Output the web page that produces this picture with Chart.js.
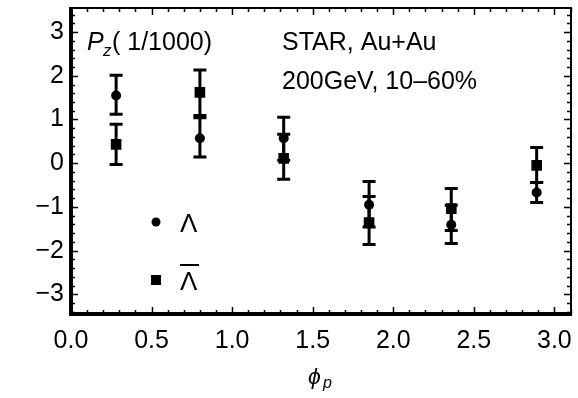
<!DOCTYPE html>
<html>
<head>
<meta charset="utf-8">
<script src="https://cdn.jsdelivr.net/npm/chart.js@4"></script>
<style>
  html, body { margin: 0; padding: 0; background: #fff; }
  #wrap { width: 578px; height: 398px; position: relative; }
</style>
</head>
<body>
<div id="wrap"><canvas id="grafik"></canvas></div>
<script>
// phi_p positions of the six bins
const phiBins = [0.28, 0.80, 1.32, 1.85, 2.36, 2.89];

// Lambda (circles)
const lambdaPz = [1.55, 0.57, 0.57, -0.95, -1.41, -0.67];
const lambdaHi = [2.01, 1.04, 1.05, -0.42, -0.96, -0.44];
const lambdaLo = [1.12, 0.14, 0.07, -1.46, -1.84, -0.90];

// anti-Lambda (squares)
const antiPz = [0.43, 1.62, 0.11, -1.36, -1.04, -0.05];
const antiHi = [0.89, 2.13, 0.66, -0.76, -0.58, 0.36];
const antiLo = [-0.03, 1.09, -0.37, -1.86, -1.54, -0.44];

const xTicks = [0.0, 0.5, 1.0, 1.5, 2.0, 2.5, 3.0];
const yTicks = [-3, -2, -1, 0, 1, 2, 3];

const FONT = '"Liberation Sans", Arial, sans-serif';

function toPoints(xs, ys, hi, lo) {
    return xs.map((x, i) => ({ x: x, y: ys[i], hi: hi[i], lo: lo[i] }));
}

function minus(v) {
    return v < 0 ? '\u2212' + Math.abs(v) : String(v);
}

// error bars with caps
const errorBars = {
    id: 'errorBars',
    beforeDatasetsDraw(chart) {
        const ctx = chart.ctx;
        const xs = chart.scales.x, ys = chart.scales.y;
        ctx.save();
        ctx.strokeStyle = '#000';
        ctx.lineWidth = 3;
        chart.data.datasets.forEach(ds => {
            ds.data.forEach(p => {
                const px = xs.getPixelForValue(p.x);
                const top = ys.getPixelForValue(p.hi);
                const bot = ys.getPixelForValue(p.lo);
                ctx.beginPath();
                ctx.moveTo(px, top); ctx.lineTo(px, bot);
                ctx.moveTo(px - 6.5, top); ctx.lineTo(px + 6.5, top);
                ctx.moveTo(px - 6.5, bot); ctx.lineTo(px + 6.5, bot);
                ctx.stroke();
            });
        });
        ctx.restore();
    }
};

// Mathematica style frame, inward ticks, labels and legend
const frameAndText = {
    id: 'frameAndText',
    afterDraw(chart) {
        const ctx = chart.ctx;
        const a = chart.chartArea;
        const xs = chart.scales.x, ys = chart.scales.y;
        const L = Math.round(a.left), R = Math.round(a.right);
        const T = Math.round(a.top), B = Math.round(a.bottom);
        ctx.save();
        ctx.strokeStyle = '#000';
        ctx.fillStyle = '#000';

        // ticks
        ctx.lineWidth = 1.5;
        ctx.beginPath();
        for (let i = 0; i <= 31; i++) {
            const v = i / 10;
            const px = Math.round(xs.getPixelForValue(v)) + 0.5;
            const len = (i % 5 === 0) ? 7 : 4;
            ctx.moveTo(px, B); ctx.lineTo(px, B - len);
            ctx.moveTo(px, T); ctx.lineTo(px, T + len);
        }
        for (let i = -17; i <= 17; i++) {
            const v = i / 5;
            const py = Math.round(ys.getPixelForValue(v)) + 0.5;
            const len = (i % 5 === 0) ? 7 : 4;
            ctx.moveTo(L, py); ctx.lineTo(L + len, py);
            ctx.moveTo(R, py); ctx.lineTo(R - len, py);
        }
        ctx.stroke();

        // frame
        ctx.fillRect(L - 1, T - 1, R - L + 2, 2);       // top
        ctx.fillRect(R - 1, T - 1, 2, B - T + 2);       // right
        ctx.fillRect(L - 2, T - 1, 4, B - T + 3);       // left
        ctx.fillRect(L - 2, B - 2, R - L + 3, 4);       // bottom

        ctx.textBaseline = 'alphabetic';
        ctx.textAlign = 'left';

        // P_z( 1/1000)
        ctx.font = 'italic 25px ' + FONT;
        ctx.fillText('P', 87, 50);
        ctx.font = 'italic 17px ' + FONT;
        ctx.fillText('z', 103, 56);
        ctx.font = '25px ' + FONT;
        ctx.fillText('( 1/1000)', 112, 50);

        ctx.fillText('STAR, Au+Au', 282, 50);
        ctx.fillText('200GeV, 10\u201360%', 282, 89);

        // axis title phi_p
        ctx.font = 'italic 23px ' + FONT;
        ctx.fillText('\u03d5', 308, 384);
        ctx.font = 'italic 16px ' + FONT;
        ctx.fillText('p', 323, 388);

        // legend
        ctx.beginPath();
        ctx.arc(156, 222, 4.5, 0, Math.PI * 2);
        ctx.fill();
        ctx.fillRect(151, 275, 10, 10);
        ctx.font = '26px ' + FONT;
        ctx.fillText('\u039b', 180, 232);
        ctx.fillText('\u039b', 180, 290);
        ctx.fillRect(180, 264, 19, 2);

        ctx.restore();
    }
};

function noPad(s) {
    s.paddingTop = 0;
    s.paddingBottom = 0;
    s.paddingLeft = 0;
    s.paddingRight = 0;
}

new Chart(document.getElementById('grafik').getContext('2d'), {
    type: 'scatter',
    data: {
        datasets: [{
            label: 'Lambda',
            data: toPoints(phiBins, lambdaPz, lambdaHi, lambdaLo),
            pointStyle: 'circle',
            pointRadius: 5,
            backgroundColor: '#000',
            borderColor: '#000',
            borderWidth: 0
        }, {
            label: 'anti-Lambda',
            data: toPoints(phiBins, antiPz, antiHi, antiLo),
            pointStyle: 'rect',
            pointRadius: 7.5,
            backgroundColor: '#000',
            borderColor: '#000',
            borderWidth: 0
        }]
    },
    options: {
        responsive: true,
        maintainAspectRatio: false,
        animation: false,
        layout: { padding: { left: 0, right: 2, top: 8, bottom: 0 } },
        plugins: {
            legend: { display: false },
            tooltip: { enabled: false }
        },
        scales: {
            x: {
                type: 'linear',
                min: 0,
                max: 3.1,
                afterBuildTicks: s => { s.ticks = xTicks.map(v => ({ value: v })); },
                afterFit: s => { s.height = 84; noPad(s); },
                grid: { display: false, drawTicks: false },
                border: { display: false },
                ticks: {
                    padding: 12,
                    color: '#000',
                    font: { family: FONT, size: 25 },
                    callback: v => v.toFixed(1)
                }
            },
            y: {
                type: 'linear',
                min: -3.45,
                max: 3.55,
                afterBuildTicks: s => { s.ticks = yTicks.map(v => ({ value: v })); },
                afterFit: s => { s.width = 71; noPad(s); },
                grid: { display: false, drawTicks: false },
                border: { display: false },
                ticks: {
                    padding: 7,
                    color: '#000',
                    font: { family: FONT, size: 25 },
                    callback: v => minus(v)
                }
            }
        }
    },
    plugins: [errorBars, frameAndText]
});
</script>
</body>
</html>
